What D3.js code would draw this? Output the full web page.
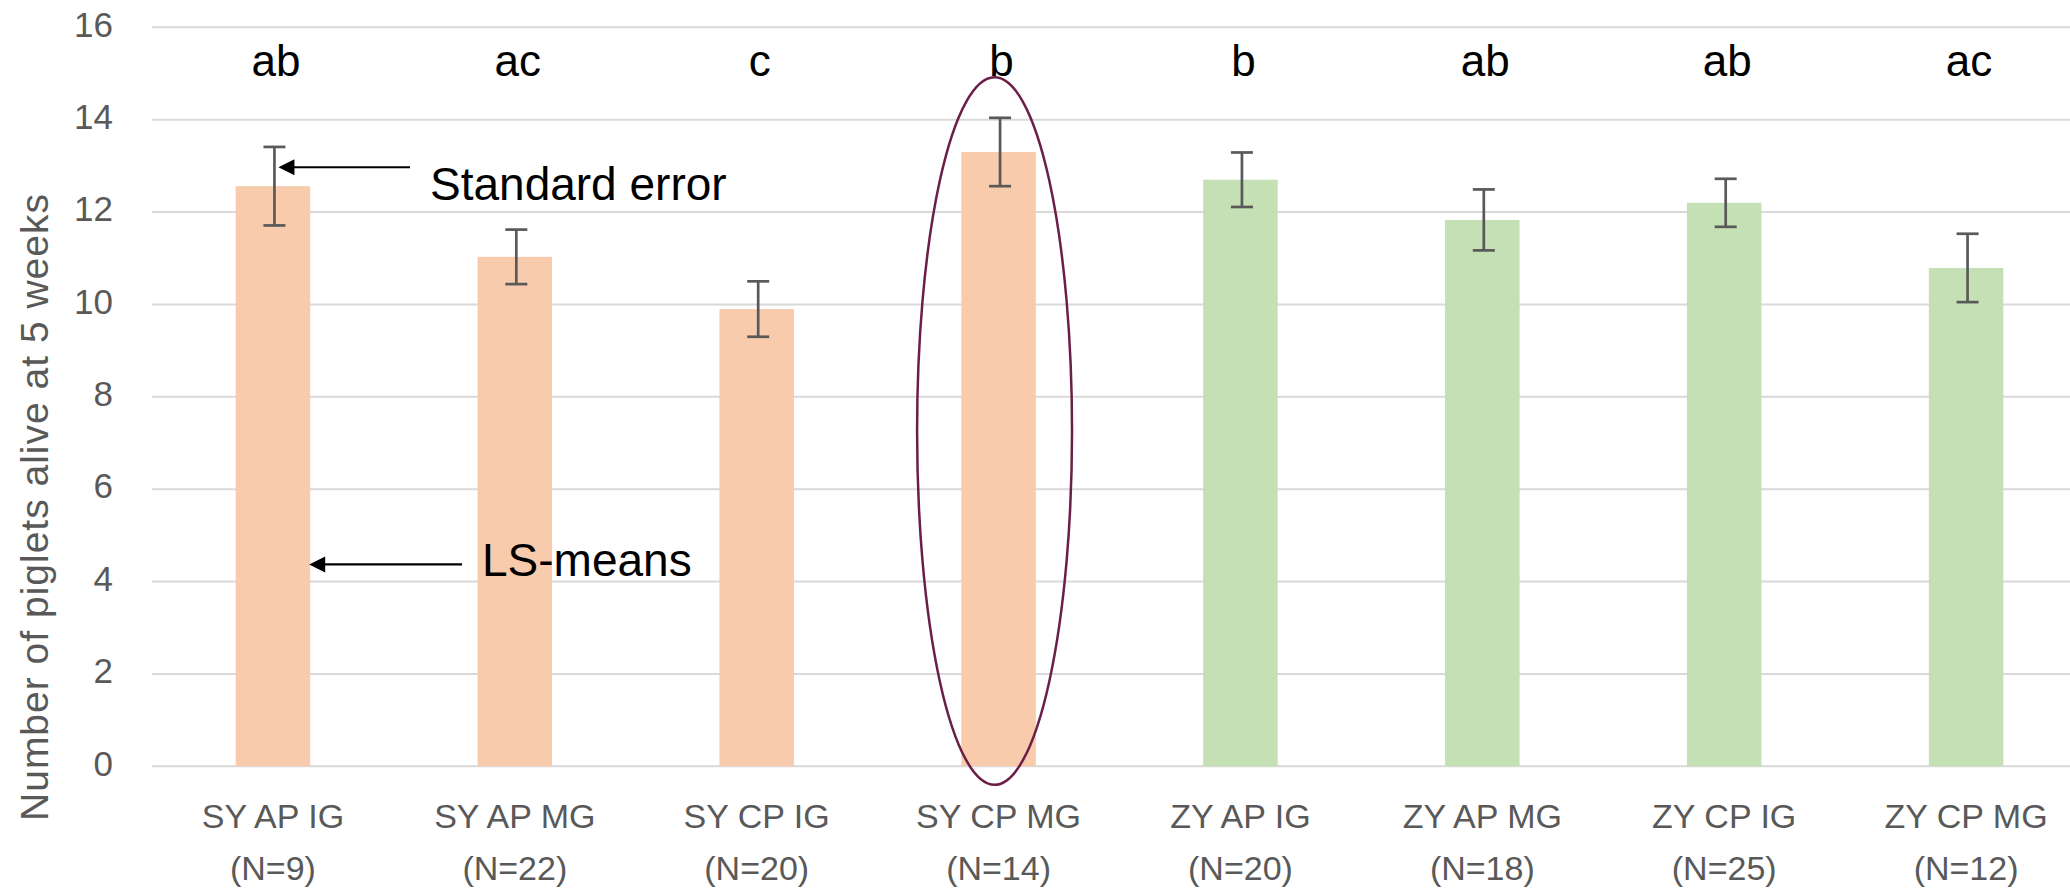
<!DOCTYPE html>
<html>
<head>
<meta charset="utf-8">
<script src="https://cdn.jsdelivr.net/npm/d3@7"></script>
<style>
  html, body { margin: 0; padding: 0; background: #ffffff; }
  svg { display: block; }
  text { font-family: "Liberation Sans", Arial, sans-serif; }
</style>
</head>
<body>
<svg id="chart" width="2070" height="889"></svg>
<script>
// Treatment groups (sow type, piglet type, gilt group) and group sizes
const categories = ["SY AP IG", "SY AP MG", "SY CP IG", "SY CP MG", "ZY AP IG", "ZY AP MG", "ZY CP IG", "ZY CP MG"];
const groupSizes = [9, 22, 20, 14, 20, 18, 25, 12];
const sowType = ["SY", "SY", "SY", "SY", "ZY", "ZY", "ZY", "ZY"];
// LS-means of piglets alive at 5 weeks and their standard errors
const lsMeans = [12.56, 11.03, 9.90, 13.30, 12.70, 11.83, 12.20, 10.79];
const stdErrors = [0.85, 0.59, 0.60, 0.74, 0.59, 0.66, 0.52, 0.74];
// Significance letters above each group
const sigLetters = ["ab", "ac", "c", "b", "b", "ab", "ab", "ac"];
const yTicks = [0, 2, 4, 6, 8, 10, 12, 14, 16];

const W = 2070, H = 889;
const svg = d3.select("#chart");

const x = d3.scaleBand()
  .domain(categories)
  .range([152, 2087])
  .paddingInner(0.692)
  .paddingOuter(0.346);

const y = d3.scaleLinear().domain([0, 16]).range([766.3, 27.3]);

const fill = d3.scaleOrdinal().domain(["SY", "ZY"]).range(["#f8cbad", "#c5e0b4"]);
const axisGrey = "#595959";

// Horizontal gridlines
svg.append("g")
  .selectAll("line")
  .data(yTicks)
  .join("line")
  .attr("x1", 152).attr("x2", W)
  .attr("y1", d => y(d)).attr("y2", d => y(d))
  .attr("stroke", "#d9d9d9")
  .attr("stroke-width", 2);

// Y axis tick labels
const yAxis = d3.axisLeft(y).tickValues(yTicks).tickSize(0).tickPadding(0);
svg.append("g")
  .attr("transform", "translate(113,0)")
  .call(yAxis)
  .call(g => g.select(".domain").remove())
  .call(g => g.selectAll("text")
    .attr("font-family", "Liberation Sans, Arial, sans-serif")
    .attr("font-size", 35)
    .attr("fill", axisGrey)
    .attr("dy", "0.25em"));

// Y axis title
svg.append("text")
  .attr("transform", "translate(48,507) rotate(-90)")
  .attr("text-anchor", "middle")
  .attr("font-size", 39)
  .attr("letter-spacing", 1)
  .attr("fill", axisGrey)
  .text("Number of piglets alive at 5 weeks");

// Bars
const rows = categories.map((c, i) => ({
  cat: c, n: groupSizes[i], sow: sowType[i], mean: lsMeans[i], se: stdErrors[i], letter: sigLetters[i]
}));

svg.append("g")
  .selectAll("rect")
  .data(rows)
  .join("rect")
  .attr("x", d => x(d.cat))
  .attr("width", x.bandwidth())
  .attr("y", d => y(d.mean))
  .attr("height", d => y(0) - y(d.mean))
  .attr("fill", d => fill(d.sow));

// Error bars
const cx = d => x(d.cat) + x.bandwidth() / 2 + 1.5;
const capHalf = 11;
const eb = svg.append("g")
  .attr("stroke", axisGrey)
  .attr("stroke-width", 2.7);
eb.selectAll("line.stem")
  .data(rows).join("line").attr("class", "stem")
  .attr("x1", cx).attr("x2", cx)
  .attr("y1", d => y(d.mean + d.se)).attr("y2", d => y(d.mean - d.se));
eb.selectAll("line.capTop")
  .data(rows).join("line").attr("class", "capTop")
  .attr("x1", d => cx(d) - capHalf).attr("x2", d => cx(d) + capHalf)
  .attr("y1", d => y(d.mean + d.se)).attr("y2", d => y(d.mean + d.se));
eb.selectAll("line.capBot")
  .data(rows).join("line").attr("class", "capBot")
  .attr("x1", d => cx(d) - capHalf).attr("x2", d => cx(d) + capHalf)
  .attr("y1", d => y(d.mean - d.se)).attr("y2", d => y(d.mean - d.se));

// Significance letters
svg.append("g")
  .selectAll("text")
  .data(rows)
  .join("text")
  .attr("x", d => x(d.cat) + x.bandwidth() / 2 + 3)
  .attr("y", 76)
  .attr("text-anchor", "middle")
  .attr("font-size", 44)
  .attr("fill", "#000000")
  .text(d => d.letter);

// Category labels (two lines)
const xl = svg.append("g")
  .attr("text-anchor", "middle")
  .attr("font-size", 34)
  .attr("fill", axisGrey);
xl.selectAll("text.l1")
  .data(rows).join("text").attr("class", "l1")
  .attr("x", d => x(d.cat) + x.bandwidth() / 2)
  .attr("y", 828)
  .text(d => d.cat);
xl.selectAll("text.l2")
  .data(rows).join("text").attr("class", "l2")
  .attr("x", d => x(d.cat) + x.bandwidth() / 2)
  .attr("y", 880)
  .text(d => `(N=${d.n})`);

// Ellipse highlighting SY CP MG
const hl = rows[3];
const eTop = 14.92, eBot = -0.40;
svg.append("ellipse")
  .attr("cx", x(hl.cat) + x.bandwidth() / 2 - 4)
  .attr("cy", (y(eTop) + y(eBot)) / 2)
  .attr("rx", x.bandwidth() * 1.04)
  .attr("ry", (y(eBot) - y(eTop)) / 2)
  .attr("fill", "none")
  .attr("stroke", "#6b1f47")
  .attr("stroke-width", 2.5);

// Callout arrows with their labels
function callout(tipX, value, tailX, label, textX, textDy) {
  const yy = y(value);
  svg.append("line")
    .attr("x1", tailX).attr("x2", tipX + 12)
    .attr("y1", yy).attr("y2", yy)
    .attr("stroke", "#000").attr("stroke-width", 2.2);
  svg.append("path")
    .attr("d", `M${tipX},${yy} L${tipX + 16},${yy - 8} L${tipX + 16},${yy + 8} Z`)
    .attr("fill", "#000");
  svg.append("text")
    .attr("x", textX)
    .attr("y", yy + textDy)
    .attr("font-size", 46)
    .attr("fill", "#000")
    .text(label);
}
const first = rows[0];
callout(cx(first) + 4, 12.97, 410, "Standard error", 430, 33);
callout(x(first.cat) + x.bandwidth() - 1, 4.37, 462, "LS-means", 482, 12);
</script>
</body>
</html>
